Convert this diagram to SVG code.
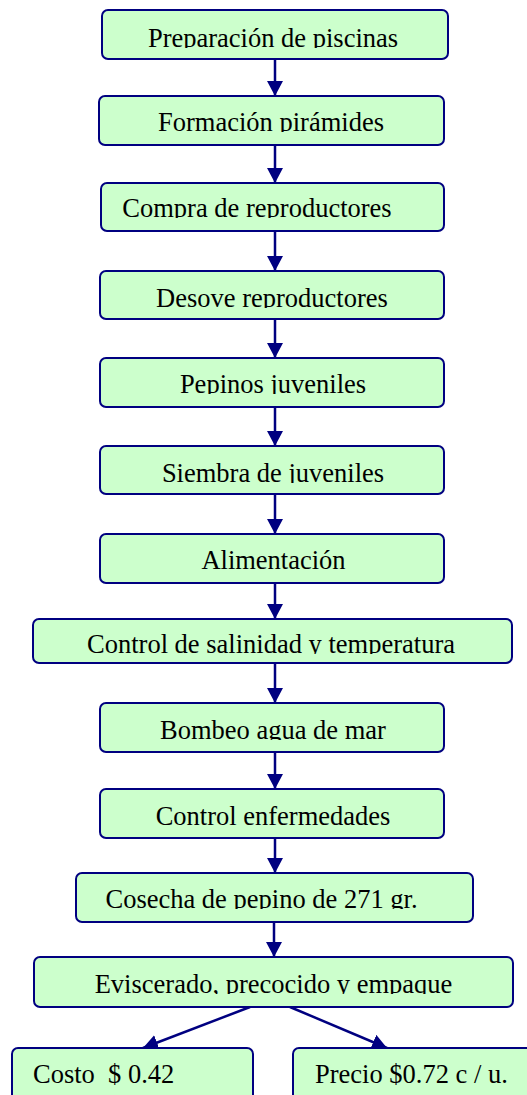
<svg xmlns="http://www.w3.org/2000/svg" width="527" height="1095" viewBox="0 0 527 1095">
<style>
.box{fill:#CCFFCC;stroke:#000080;stroke-width:2}
.lbl{font-family:"Liberation Serif","Times New Roman",serif;font-size:26.5px;fill:#000;text-anchor:middle}
.lft{text-anchor:start}
.con{stroke:#000080;stroke-width:2.5;fill:none;marker-end:url(#ah)}
</style>
<defs>
<marker id="ah" markerUnits="userSpaceOnUse" markerWidth="16" markerHeight="16" viewBox="0 0 16 16" refX="15" refY="8" orient="auto">
<path d="M0,0 L15,8 L0,16 Z" fill="#000080"/>
</marker>
<clipPath id="c1"><rect x="0" y="0" width="527" height="48"/></clipPath>
<clipPath id="c2"><rect x="0" y="90" width="527" height="42"/></clipPath>
<clipPath id="c3"><rect x="0" y="180" width="527" height="38"/></clipPath>
<clipPath id="c4"><rect x="0" y="265" width="527" height="43"/></clipPath>
<clipPath id="c5"><rect x="0" y="350" width="527" height="44"/></clipPath>
<clipPath id="c6"><rect x="0" y="440" width="527" height="43"/></clipPath>
<clipPath id="c7"><rect x="0" y="525" width="527" height="45"/></clipPath>
<clipPath id="c8"><rect x="0" y="615" width="527" height="39"/></clipPath>
<clipPath id="c9"><rect x="0" y="700" width="527" height="40"/></clipPath>
<clipPath id="c10"><rect x="0" y="785" width="527" height="41"/></clipPath>
<clipPath id="c11"><rect x="0" y="865" width="527" height="44"/></clipPath>
<clipPath id="c12"><rect x="0" y="950" width="527" height="44"/></clipPath>
<clipPath id="c13"><rect x="0" y="1040" width="527" height="46"/></clipPath>
</defs>
<g id="connectors">
<line class="con" x1="275" y1="59" x2="275" y2="96"/>
<line class="con" x1="275" y1="145" x2="275" y2="183"/>
<line class="con" x1="275" y1="231" x2="275" y2="271"/>
<line class="con" x1="275" y1="319" x2="275" y2="358"/>
<line class="con" x1="275" y1="407" x2="275" y2="446"/>
<line class="con" x1="275" y1="494" x2="275" y2="534"/>
<line class="con" x1="275" y1="583" x2="275" y2="619"/>
<line class="con" x1="275" y1="663" x2="275" y2="703"/>
<line class="con" x1="275" y1="752" x2="275" y2="789"/>
<line class="con" x1="275" y1="838" x2="275" y2="873"/>
<line class="con" x1="274" y1="922" x2="274" y2="957"/>
<line class="con" x1="250" y1="1007" x2="143" y2="1048"/>
<line class="con" x1="290" y1="1007" x2="387" y2="1048"/>
</g>
<g id="n1"><rect class="box" x="102" y="10" width="346" height="49" rx="6"/><text class="lbl" x="273" y="47" clip-path="url(#c1)">Preparación de piscinas</text></g>
<g id="n2"><rect class="box" x="99" y="96" width="345" height="49" rx="6"/><text class="lbl" x="271" y="131" clip-path="url(#c2)">Formación pirámides</text></g>
<g id="n3"><rect class="box" x="101" y="183" width="343" height="48" rx="6"/><text class="lbl" x="257" y="217" clip-path="url(#c3)">Compra de reproductores</text></g>
<g id="n4"><rect class="box" x="100" y="271" width="344" height="48" rx="6"/><text class="lbl" x="272" y="307" clip-path="url(#c4)">Desove reproductores</text></g>
<g id="n5"><rect class="box" x="100" y="358" width="344" height="49" rx="6"/><text class="lbl" x="273" y="393" clip-path="url(#c5)">Pepinos juveniles</text></g>
<g id="n6"><rect class="box" x="100" y="446" width="344" height="48" rx="6"/><text class="lbl" x="273" y="482" clip-path="url(#c6)">Siembra de juveniles</text></g>
<g id="n7"><rect class="box" x="100" y="534" width="344" height="49" rx="6"/><text class="lbl" x="273.5" y="569" clip-path="url(#c7)">Alimentación</text></g>
<g id="n8"><rect class="box" x="33" y="619" width="479" height="44" rx="6"/><text class="lbl" x="271" y="653" clip-path="url(#c8)">Control de salinidad y temperatura</text></g>
<g id="n9"><rect class="box" x="100" y="703" width="344" height="49" rx="6"/><text class="lbl" x="273" y="739" clip-path="url(#c9)">Bombeo agua de mar</text></g>
<g id="n10"><rect class="box" x="100" y="789" width="344" height="49" rx="6"/><text class="lbl" x="273" y="825" clip-path="url(#c10)">Control enfermedades</text></g>
<g id="n11"><rect class="box" x="76" y="873" width="397" height="49" rx="6"/><text class="lbl" x="261.5" y="908" clip-path="url(#c11)">Cosecha de pepino de 271 gr.</text></g>
<g id="n12"><rect class="box" x="34" y="957" width="479" height="50" rx="6"/><text class="lbl" x="273.5" y="993" clip-path="url(#c12)">Eviscerado, precocido y empaque</text></g>
<g id="n13"><rect class="box" x="12" y="1048" width="241" height="60" rx="6"/><text class="lbl lft" x="33" y="1083" clip-path="url(#c13)">Costo&#160; $ 0.42</text></g>
<g id="n14"><rect class="box" x="293" y="1048" width="250" height="60" rx="6"/><text class="lbl lft" x="315" y="1083" clip-path="url(#c13)">Precio $0.72 c / u.</text></g>
</svg>
